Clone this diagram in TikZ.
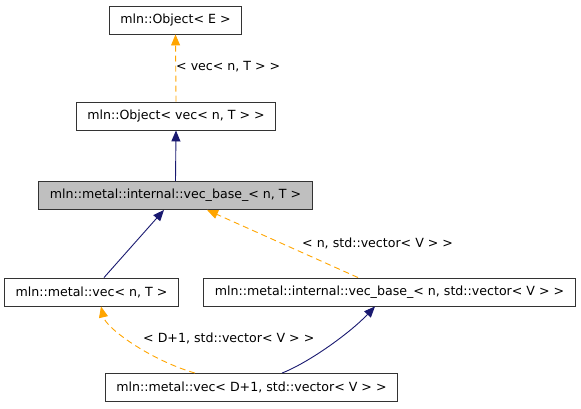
\documentclass[tikz,border=0pt]{standalone}
\usepackage{fontspec}
\setmainfont{DejaVu Sans}
\usetikzlibrary{arrows.meta}
\definecolor{edgeblue}{RGB}{25,25,112}
\definecolor{edgeorange}{RGB}{255,165,0}
\definecolor{boxgray}{RGB}{191,191,191}
\tikzset{
  cls/.style={draw=black!80, fill=white, line width=0.9pt, minimum height=28pt,
    inner xsep=11pt, inner ysep=0pt, font=\fontsize{12.6}{14}\selectfont},
  inherit/.style={draw=edgeblue, line width=0.9pt, -{Triangle[length=11pt,width=9pt]}},
  tmpl/.style={draw=edgeorange, line width=0.9pt, dash pattern=on 6pt off 4pt,
    -{Triangle[length=11pt,width=9pt]}},
  lbl/.style={anchor=west, inner sep=0pt, font=\fontsize{12.6}{14}\selectfont}
}
\begin{document}
\begin{tikzpicture}[x=1pt,y=-1pt]
    \useasboundingbox (0,0) rectangle (581,408);
    \node[cls] (objE) at (175.5,20) {mln::Object< E >};
    \node[cls] (objvec) at (176,116) {mln::Object< vec< n, T > >};
    \node[cls, fill=boxgray] (vecbase) at (175.5,195.5) {mln::metal::internal::vec\_base\_< n, T >};
    \node[cls] (vec) at (91.5,292) {mln::metal::vec< n, T >};
    \node[cls] (vecbasestd) at (389.5,292) {mln::metal::internal::vec\_base\_< n, std::vector< V > >};
    \node[cls] (vecD) at (251.5,387.5) {mln::metal::vec< D+1, std::vector< V > >};
    \draw[tmpl] (objvec.north) -- (objE.south);
    \draw[inherit] (vecbase.north) -- (objvec.south);
    \draw[inherit] ([xshift=12.5pt]vec.north) -- ([xshift=-11.5pt]vecbase.south);
    \draw[tmpl] ([xshift=-31.5pt]vecbasestd.north) -- ([xshift=31.5pt]vecbase.south);
    \draw[tmpl] ([xshift=-56.5pt]vecD.north) .. controls (150,360) and (106,328) .. ([xshift=9.5pt]vec.south);
    \draw[inherit] ([xshift=30.5pt]vecD.north) .. controls (310,362) and (351,332) .. ([xshift=-14.5pt]vecbasestd.south);
    \node[lbl] (lblobj) at (176,67) {< vec< n, T > >};
    \node[lbl] (lblstd) at (302,243) {< n, std::vector< V > >};
    \node[lbl] (lblD) at (143,338) {< D+1, std::vector< V > >};
\end{tikzpicture}
\end{document}
